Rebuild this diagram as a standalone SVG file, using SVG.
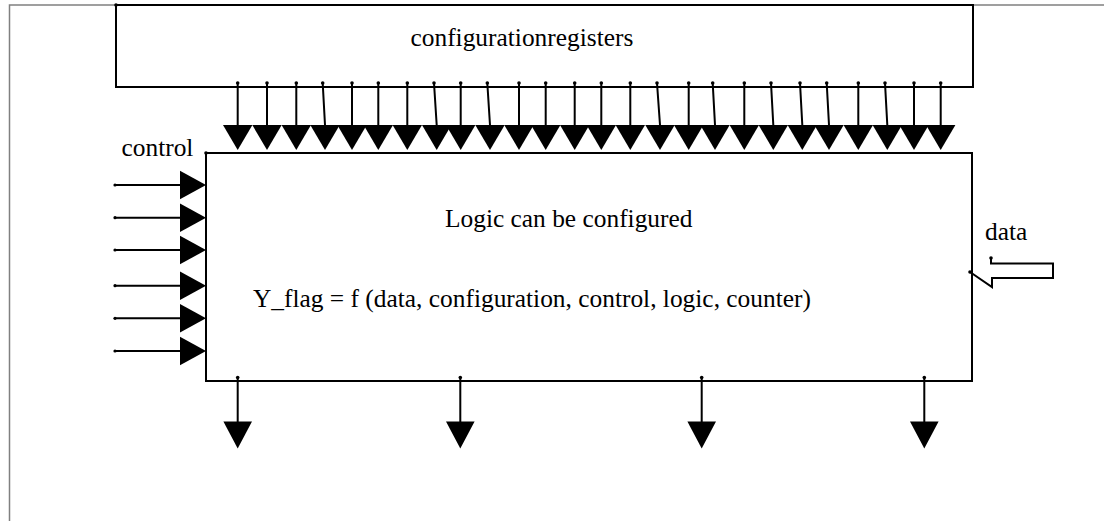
<svg xmlns="http://www.w3.org/2000/svg" xmlns:xlink="http://www.w3.org/1999/xlink" width="1104" height="521" viewBox="0 0 1104 521">
<style>
.frame{fill:none;stroke:#808080;stroke-width:1.5}
.box{fill:none;stroke:#000;stroke-width:2}
.wire{fill:none;stroke:#000;stroke-width:2}
.head{fill:#000;stroke:none}
.dot{fill:#000}
.lbl{font-family:"Liberation Serif","Times New Roman",serif;font-size:25.4px;fill:#000}
</style>
<defs>
<path id="tdown" class="head" d="M-14.7,0 L14.7,0 L0,25 Z"/>
<path id="tright" class="head" d="M0,-14.3 L0,14.3 L26,0 Z"/>
<path id="tbot" class="head" d="M-14.3,0 L14.3,0 L0,27 Z"/>
</defs>
<rect width="1104" height="521" fill="#fff"/>
<path class="frame" d="M9.5,521 L9.5,5 L1104,5"/>

<g id="config">
<rect class="box" x="116" y="5" width="857" height="82" fill="#fff"/>
<circle class="dot" cx="116" cy="5" r="1.8"/>
<text class="lbl" x="410.5" y="46">configurationregisters</text>
</g>

<g id="logic">
<rect class="box" x="206" y="153" width="766" height="228"/>
<circle class="dot" cx="206" cy="153" r="1.8"/>
<text class="lbl" x="445" y="227">Logic can be configured</text>
<text class="lbl" x="253" y="307">Y_flag = f (data, configuration, control, logic, counter)</text>
</g>

<g id="control">
<text class="lbl" x="121.5" y="156">control</text>
</g>

<g id="data">
<text class="lbl" x="985" y="240">data</text>
<path class="wire" d="M991,258 L991,263.5 L1053,263.5 L1053,278 L992,278 L992,287 L970,272"/>
<circle class="dot" cx="991" cy="258" r="1.8"/>
<circle class="dot" cx="970" cy="272" r="1.8"/>
</g>

<g id="connectors">
<g id="top-wires">
<path class="wire" d="M237.7,83V125 M267,83V125 M296.3,83V125 M322.7,83L325,125 M352,83V125 M378.3,83V125 M407.3,83V125 M434,83L436.7,125 M460.7,83V125 M487.3,83L490,125 M519,83V125 M545.7,83V125 M574.7,83V125 M601.3,83V125 M630.3,83V125 M657,83L660,125 M688.7,83V125 M712.7,83L715,125 M744.3,83V125 M771,83L773.3,125 M800,83L802.3,125 M826.7,83L829,125 M858.3,83V125 M885,83L887.3,125 M914,83V125 M940.7,83V125"/>
<g class="dot">
<circle cx="237.7" cy="83" r="1.8"/><circle cx="267" cy="83" r="1.8"/><circle cx="296.3" cy="83" r="1.8"/><circle cx="322.7" cy="83" r="1.8"/><circle cx="352" cy="83" r="1.8"/><circle cx="378.3" cy="83" r="1.8"/><circle cx="407.3" cy="83" r="1.8"/><circle cx="434" cy="83" r="1.8"/><circle cx="460.7" cy="83" r="1.8"/><circle cx="487.3" cy="83" r="1.8"/><circle cx="519" cy="83" r="1.8"/><circle cx="545.7" cy="83" r="1.8"/><circle cx="574.7" cy="83" r="1.8"/><circle cx="601.3" cy="83" r="1.8"/><circle cx="630.3" cy="83" r="1.8"/><circle cx="657" cy="83" r="1.8"/><circle cx="688.7" cy="83" r="1.8"/><circle cx="712.7" cy="83" r="1.8"/><circle cx="744.3" cy="83" r="1.8"/><circle cx="771" cy="83" r="1.8"/><circle cx="800" cy="83" r="1.8"/><circle cx="826.7" cy="83" r="1.8"/><circle cx="858.3" cy="83" r="1.8"/><circle cx="885" cy="83" r="1.8"/><circle cx="914" cy="83" r="1.8"/><circle cx="940.7" cy="83" r="1.8"/>
</g>
<use xlink:href="#tdown" x="237.7" y="125"/><use xlink:href="#tdown" x="267" y="125"/><use xlink:href="#tdown" x="296.3" y="125"/><use xlink:href="#tdown" x="325" y="125"/><use xlink:href="#tdown" x="352" y="125"/><use xlink:href="#tdown" x="378.3" y="125"/><use xlink:href="#tdown" x="407.3" y="125"/><use xlink:href="#tdown" x="436.7" y="125"/><use xlink:href="#tdown" x="460.7" y="125"/><use xlink:href="#tdown" x="490" y="125"/><use xlink:href="#tdown" x="519" y="125"/><use xlink:href="#tdown" x="545.7" y="125"/><use xlink:href="#tdown" x="574.7" y="125"/><use xlink:href="#tdown" x="601.3" y="125"/><use xlink:href="#tdown" x="630.3" y="125"/><use xlink:href="#tdown" x="660" y="125"/><use xlink:href="#tdown" x="688.7" y="125"/><use xlink:href="#tdown" x="715" y="125"/><use xlink:href="#tdown" x="744.3" y="125"/><use xlink:href="#tdown" x="773.3" y="125"/><use xlink:href="#tdown" x="802.3" y="125"/><use xlink:href="#tdown" x="829" y="125"/><use xlink:href="#tdown" x="858.3" y="125"/><use xlink:href="#tdown" x="887.3" y="125"/><use xlink:href="#tdown" x="914" y="125"/><use xlink:href="#tdown" x="940.7" y="125"/>
</g>
<g id="control-wires">
<path class="wire" d="M115,185H180 M115,217.7H180 M115,250H180 M115,285.7H180 M115,318.3H180 M115,351H180"/>
<g class="dot">
<circle cx="115" cy="185" r="1.6"/><circle cx="115" cy="217.7" r="1.6"/><circle cx="115" cy="250" r="1.6"/><circle cx="115" cy="285.7" r="1.6"/><circle cx="115" cy="318.3" r="1.6"/><circle cx="115" cy="351" r="1.6"/>
</g>
<use xlink:href="#tright" x="180" y="185"/><use xlink:href="#tright" x="180" y="217.7"/><use xlink:href="#tright" x="180" y="250"/><use xlink:href="#tright" x="180" y="285.7"/><use xlink:href="#tright" x="180" y="318.3"/><use xlink:href="#tright" x="180" y="351"/>
</g>
<g id="output-wires">
<path class="wire" d="M237.7,377V422 M460.3,377V422 M701.7,377V422 M924.3,377V422"/>
<g class="dot">
<circle cx="237.7" cy="377.5" r="1.8"/><circle cx="460.3" cy="377.5" r="1.8"/><circle cx="701.7" cy="377.5" r="1.8"/><circle cx="924.3" cy="377.5" r="1.8"/>
</g>
<use xlink:href="#tbot" x="237.7" y="421.5"/><use xlink:href="#tbot" x="460.3" y="421.5"/><use xlink:href="#tbot" x="701.7" y="421.5"/><use xlink:href="#tbot" x="924.3" y="421.5"/>
</g>
</g>
</svg>
